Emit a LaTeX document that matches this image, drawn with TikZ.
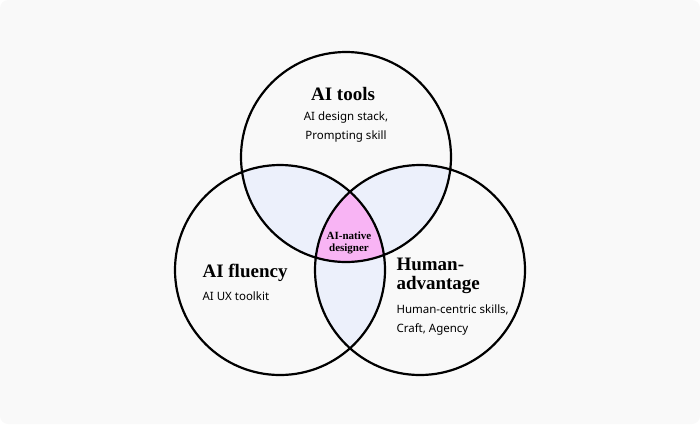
\documentclass[tikz,border=0pt]{standalone}
\usepackage{fontspec}
\setmainfont{Liberation Serif}
\newfontfamily\bodyfont{Noto Sans}
\definecolor{lens}{HTML}{ECF0FB}
\definecolor{core}{HTML}{F8B4F4}
\begin{document}
\begin{tikzpicture}[x=1pt,y=-1pt,
  ring/.style={draw=black,line width=2.2pt},
  head/.style={font=\fontsize{19}{21}\selectfont\bfseries},
  body/.style={font=\bodyfont\fontsize{11.5}{19}\selectfont}]
\fill[rounded corners=8pt,fill=black!2.5] (0,0) rectangle (700,424);
\useasboundingbox (0,0) rectangle (700,424);
\coordinate (T) at (346,157);
\coordinate (L) at (280,270);
\coordinate (R) at (420,270);
\begin{scope}\clip (T) circle (105);\fill[lens] (L) circle (105);\fill[lens] (R) circle (105);\end{scope}
\begin{scope}\clip (L) circle (105);\fill[lens] (R) circle (105);\end{scope}
\begin{scope}\clip (T) circle (105);\clip (L) circle (105);\fill[core] (R) circle (105);\end{scope}
\draw[ring] (T) circle (105) (L) circle (105) (R) circle (105);
\node[head] (ht) at (343,94) {AI tools};
\node[body,align=center] (bt) at (346,127) {AI design stack,\\Prompting skill};
\node[head,anchor=west] (hl) at (199,273) {AI fluency};
\node[body,anchor=west] (bl) at (199,296) {AI UX toolkit};
\node[head,anchor=west,align=left,font=\fontsize{19}{19}\selectfont\bfseries] (hr) at (393,276) {Human-\\advantage};
\node[body,anchor=west,align=left] (br) at (393,320) {Human-centric skills,\\Craft, Agency};
\node[align=center,font=\fontsize{11}{11.5}\selectfont\bfseries] (c) at (349,243) {AI-native\\designer};
\end{tikzpicture}
\end{document}
